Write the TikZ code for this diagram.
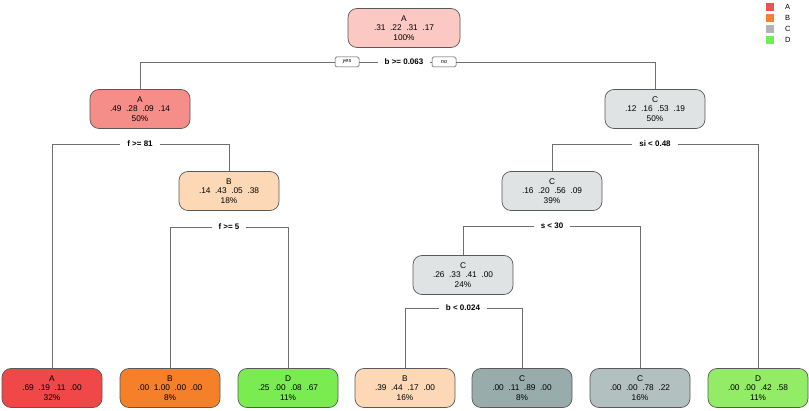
\documentclass[tikz,border=0pt]{standalone}
\usepackage{fontspec}
\setmainfont{Liberation Sans}
\begin{document}
\begin{tikzpicture}[x=1pt,y=-1pt]
\definecolor{cRoot}{RGB}{251,200,196}
\definecolor{cA50}{RGB}{245,142,137}
\definecolor{cPeach}{RGB}{252,216,182}
\definecolor{cGrayL}{RGB}{223,227,227}
\definecolor{cLeafA}{RGB}{240,72,72}
\definecolor{cLeafB}{RGB}{246,128,42}
\definecolor{cLeafD}{RGB}{122,236,82}
\definecolor{cLeafDr}{RGB}{146,236,102}
\definecolor{cLeafC8}{RGB}{152,172,172}
\definecolor{cLeafC16}{RGB}{178,192,192}
\definecolor{legA}{RGB}{240,80,80}
\definecolor{legB}{RGB}{248,128,48}
\definecolor{legC}{RGB}{178,178,178}
\definecolor{legD}{RGB}{112,240,80}
\definecolor{lineGray}{RGB}{110,110,110}
\tikzset{
  treebox/.style={draw=black!65, line width=0.7pt, rounded corners=9pt, minimum width=100pt, minimum height=39pt, align=center, inner sep=0pt, font=\fontsize{8.3}{9.8}\selectfont},
  edge/.style={draw=lineGray, line width=0.9pt},
  splitlab/.style={fill=white, inner xsep=7pt, inner ysep=2pt, font=\bfseries\fontsize{8}{9}\selectfont},
  yn/.style={draw=black!70, fill=white, line width=0.5pt, rounded corners=1.5pt, minimum width=24pt, minimum height=10pt, inner sep=0pt, font=\itshape\fontsize{5.5}{6}\selectfont},
  legsq/.style={fill=#1, minimum width=8pt, minimum height=8pt, inner sep=0pt},
  leglab/.style={anchor=west, inner sep=0pt, font=\fontsize{7.5}{8}\selectfont}
}
\useasboundingbox (0,0) rectangle (809,411);
% nodes
\node[treebox, fill=cRoot, minimum width=112pt] (n1) at (404,28) {A\\.31\ \ .22\ \ .31\ \ .17\\100\%};
\node[treebox, fill=cA50] (n2) at (140,109) {A\\.49\ \ .28\ \ .09\ \ .14\\50\%};
\node[treebox, fill=cGrayL] (n3) at (655,109) {C\\.12\ \ .16\ \ .53\ \ .19\\50\%};
\node[treebox, fill=cPeach] (n5) at (229,191) {B\\.14\ \ .43\ \ .05\ \ .38\\18\%};
\node[treebox, fill=cGrayL] (n6) at (552,191) {C\\.16\ \ .20\ \ .56\ \ .09\\39\%};
\node[treebox, fill=cGrayL] (n10) at (463,275) {C\\.26\ \ .33\ \ .41\ \ .00\\24\%};
\node[treebox, fill=cLeafA] (n4) at (52,388) {A\\.69\ \ .19\ \ .11\ \ .00\\32\%};
\node[treebox, fill=cLeafB] (n8) at (170,388) {B\\.00\ \ 1.00\ \ .00\ \ .00\\8\%};
\node[treebox, fill=cLeafD] (n9) at (288,388) {D\\.25\ \ .00\ \ .08\ \ .67\\11\%};
\node[treebox, fill=cPeach] (n12) at (405,388) {B\\.39\ \ .44\ \ .17\ \ .00\\16\%};
\node[treebox, fill=cLeafC8] (n13) at (522,388) {C\\.00\ \ .11\ \ .89\ \ .00\\8\%};
\node[treebox, fill=cLeafC16] (n11) at (640,388) {C\\.00\ \ .00\ \ .78\ \ .22\\16\%};
\node[treebox, fill=cLeafDr] (n7) at (758,388) {D\\.00\ \ .00\ \ .42\ \ .58\\11\%};
% split positions
\coordinate (s1) at (404,62);
\coordinate (s2) at (140,144);
\coordinate (s3) at (229,227);
\coordinate (s4) at (655,144);
\coordinate (s5) at (552,226);
\coordinate (s6) at (463,308);
% connectors
\draw[edge] (n2.north) -- (n2.north |- s1) -- (n3.north |- s1) -- (n3.north);
\draw[edge] (n4.north) -- (n4.north |- s2) -- (n5.north |- s2) -- (n5.north);
\draw[edge] (n8.north) -- (n8.north |- s3) -- (n9.north |- s3) -- (n9.north);
\draw[edge] (n6.north) -- (n6.north |- s4) -- (n7.north |- s4) -- (n7.north);
\draw[edge] (n10.north) -- (n10.north |- s5) -- (n11.north |- s5) -- (n11.north);
\draw[edge] (n12.north) -- (n12.north |- s6) -- (n13.north |- s6) -- (n13.north);
% split labels
\node[splitlab] (l1) at (s1) {b >= 0.063};
\node[yn] (yes) at (347,62) {yes};
\node[yn] (no) at (444,62) {no};
\node[splitlab] (l2) at (s2) {f >= 81};
\node[splitlab] (l3) at (s3) {f >= 5};
\node[splitlab] (l4) at (s4) {si < 0.48};
\node[splitlab] (l5) at (s5) {s < 30};
\node[splitlab] (l6) at (s6) {b < 0.024};
% legend
\node[legsq=legA] (qA) at (770,7) {};
\node[legsq=legB] (qB) at (770,18) {};
\node[legsq=legC] (qC) at (770,29) {};
\node[legsq=legD] (qD) at (770,40) {};
\node[leglab] (tA) at (785,7) {A};
\node[leglab] (tB) at (785,18) {B};
\node[leglab] (tC) at (785,29) {C};
\node[leglab] (tD) at (785,40) {D};
\end{tikzpicture}
\end{document}
